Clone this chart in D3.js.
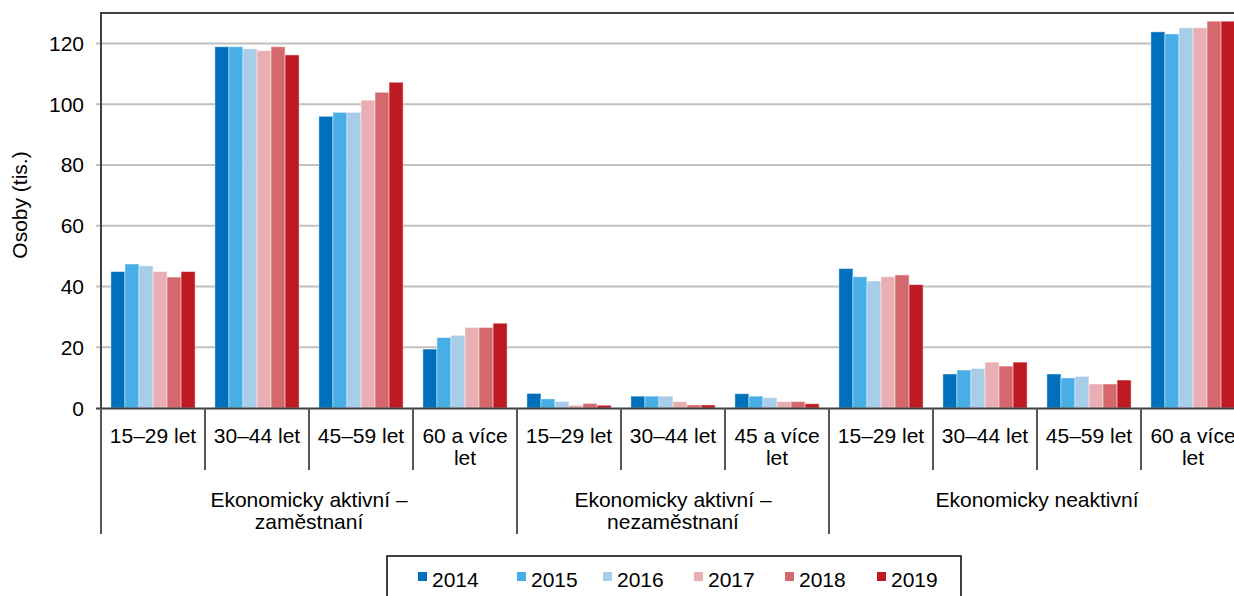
<!DOCTYPE html>
<meta charset="utf-8">
<style>
body { margin: 0; background: #fff; }
text { font-family: "Liberation Sans", Arial, sans-serif; font-size: 21px; fill: #000; }
.grid line { stroke: #c0c0c0; stroke-width: 2px; }
.frame { stroke: #404040; stroke-width: 2px; fill: none; }
.sep { stroke: #595959; stroke-width: 2px; }
</style>
<svg width="1234" height="596"></svg>
<script src="https://d3js.org/d3.v7.min.js"></script>
<script>

// data (thousands of persons)
var years = ["2014", "2015", "2016", "2017", "2018", "2019"];
var colors = ["#0070bb", "#48aee6", "#a8cde8", "#e8aeb2", "#d4686e", "#be1a22"];

var categories = ["15–29 let", "30–44 let", "45–59 let", "60 a více let",
                  "15–29 let", "30–44 let", "45 a více let",
                  "15–29 let", "30–44 let", "45–59 let", "60 a více let"];
var groupOf = [0, 0, 0, 0, 1, 1, 1, 2, 2, 2, 2];
var groupLabels = [["Ekonomicky aktivní –", "zaměstnaní"],
                   ["Ekonomicky aktivní –", "nezaměstnaní"],
                   ["Ekonomicky neaktivní"]];

var v2014 = [44.9, 118.9, 96.0, 19.4, 4.8, 3.9, 4.7, 45.9, 11.2, 11.2, 123.8];
var v2015 = [47.4, 118.9, 97.3, 23.2, 3.0, 3.9, 3.9, 43.2, 12.5, 9.9, 123.1];
var v2016 = [46.8, 118.2, 97.3, 23.9, 2.2, 3.9, 3.4, 41.8, 13.0, 10.4, 125.1];
var v2017 = [44.9, 117.6, 101.3, 26.5, 0.9, 2.1, 2.1, 43.2, 15.1, 7.9, 125.1];
var v2018 = [43.1, 118.9, 103.9, 26.5, 1.5, 1.0, 2.1, 43.8, 13.8, 7.9, 127.3];
var v2019 = [44.9, 116.2, 107.2, 27.9, 0.9, 1.0, 1.4, 40.6, 15.1, 9.2, 127.3];
var series = [v2014, v2015, v2016, v2017, v2018, v2019];

var yTicks = [0, 20, 40, 60, 80, 100, 120];

var svg = d3.select("svg");
var plotLeft = 101, plotTop = 13, plotBottom = 408, plotRight = 1245;

var x0 = d3.scaleBand()
    .domain(d3.range(categories.length))
    .range([plotLeft, plotRight])
    .paddingInner(0.19)
    .paddingOuter(0.095);
var step = x0.step();
var x1 = d3.scaleBand().domain(years).range([0, x0.bandwidth()]);
var y = d3.scaleLinear().domain([0, 130]).range([plotBottom, plotTop]);

// gridlines
svg.append("g").attr("class", "grid")
  .selectAll("line").data(yTicks.filter(function(d) { return d > 0; }))
  .enter().append("line")
    .attr("x1", plotLeft - 5).attr("x2", plotRight)
    .attr("y1", function(d) { return y(d); })
    .attr("y2", function(d) { return y(d); });

// y tick labels
svg.append("g").selectAll("text").data(yTicks)
  .enter().append("text")
    .attr("x", 84)
    .attr("y", function(d) { return y(d); })
    .attr("dy", "0.36em")
    .attr("text-anchor", "end")
    .text(function(d) { return d; });

svg.append("text")
    .attr("transform", "translate(27,205) rotate(-90)")
    .attr("text-anchor", "middle")
    .text("Osoby (tis.)");

// bars
var cat = svg.append("g").selectAll("g")
  .data(categories)
  .enter().append("g")
    .attr("transform", function(d, i) { return "translate(" + x0(i) + ",0)"; });

cat.selectAll("rect")
  .data(function(d, i) { return series.map(function(s, k) { return { year: years[k], value: s[i], k: k }; }); })
  .enter().append("rect")
    .attr("x", function(d) { return x1(d.year); })
    .attr("width", x1.bandwidth())
    .attr("y", function(d) { return y(d.value); })
    .attr("height", function(d) { return y(0) - y(d.value); })
    .attr("fill", function(d) { return colors[d.k]; })
    .attr("stroke", "#fff")
    .attr("stroke-opacity", 0.45)
    .attr("stroke-width", 1);

// frame
svg.append("path").attr("class", "frame")
    .attr("d", "M" + plotLeft + "," + plotBottom + "V" + plotTop + "H" + plotRight);
svg.append("line").attr("class", "frame")
    .attr("x1", plotLeft - 5).attr("x2", plotRight)
    .attr("y1", plotBottom + 0.5).attr("y2", plotBottom + 0.5);

// category separators
var boundaries = d3.range(categories.length + 1);
svg.append("g").selectAll("line").data(boundaries)
  .enter().append("line")
    .attr("class", "sep")
    .attr("x1", function(i) { return plotLeft + i * step; })
    .attr("x2", function(i) { return plotLeft + i * step; })
    .attr("y1", plotBottom)
    .attr("y2", function(i) {
      var isGroupEdge = i === 0 || i === categories.length || groupOf[i] !== groupOf[i - 1];
      return isGroupEdge ? 534 : 470;
    });

// category labels, wrapped
var catLabels = svg.append("g").selectAll("text").data(categories)
  .enter().append("text")
    .attr("text-anchor", "middle")
    .attr("x", function(d, i) { return plotLeft + (i + 0.5) * step; })
    .attr("y", 443);

catLabels.each(function(d) {
  var t = d3.select(this);
  t.text(d);
  if (this.getComputedTextLength() > step - 6) {
    var words = d.split(" ");
    var last = words.pop();
    t.text(null);
    t.append("tspan").attr("x", t.attr("x")).text(words.join(" "));
    t.append("tspan").attr("x", t.attr("x")).attr("dy", 22).text(last);
  }
});

// group labels
groupLabels.forEach(function(lines, g) {
  var idx = d3.range(categories.length).filter(function(i) { return groupOf[i] === g; });
  var cx = plotLeft + (idx[0] + (idx[idx.length - 1] + 1)) / 2 * step;
  var t = svg.append("text").attr("text-anchor", "middle").attr("x", cx).attr("y", 507);
  lines.forEach(function(line, j) {
    t.append("tspan").attr("x", cx).attr("dy", j === 0 ? 0 : 22).text(line);
  });
});

// legend
var lg = svg.append("g");
lg.append("rect")
    .attr("x", 387).attr("y", 556)
    .attr("width", 574).attr("height", 60)
    .attr("fill", "#fff").attr("stroke", "#000").attr("stroke-width", 1.5);
var legendX = [418, 517, 603, 694, 785, 877];
var item = lg.selectAll("g").data(years)
  .enter().append("g")
    .attr("transform", function(d, i) { return "translate(" + legendX[i] + ",0)"; });
item.append("rect")
    .attr("y", 572).attr("width", 9).attr("height", 9)
    .attr("fill", function(d, i) { return colors[i]; });
item.append("text")
    .attr("x", 14).attr("y", 587)
    .text(function(d) { return d; });

</script>
